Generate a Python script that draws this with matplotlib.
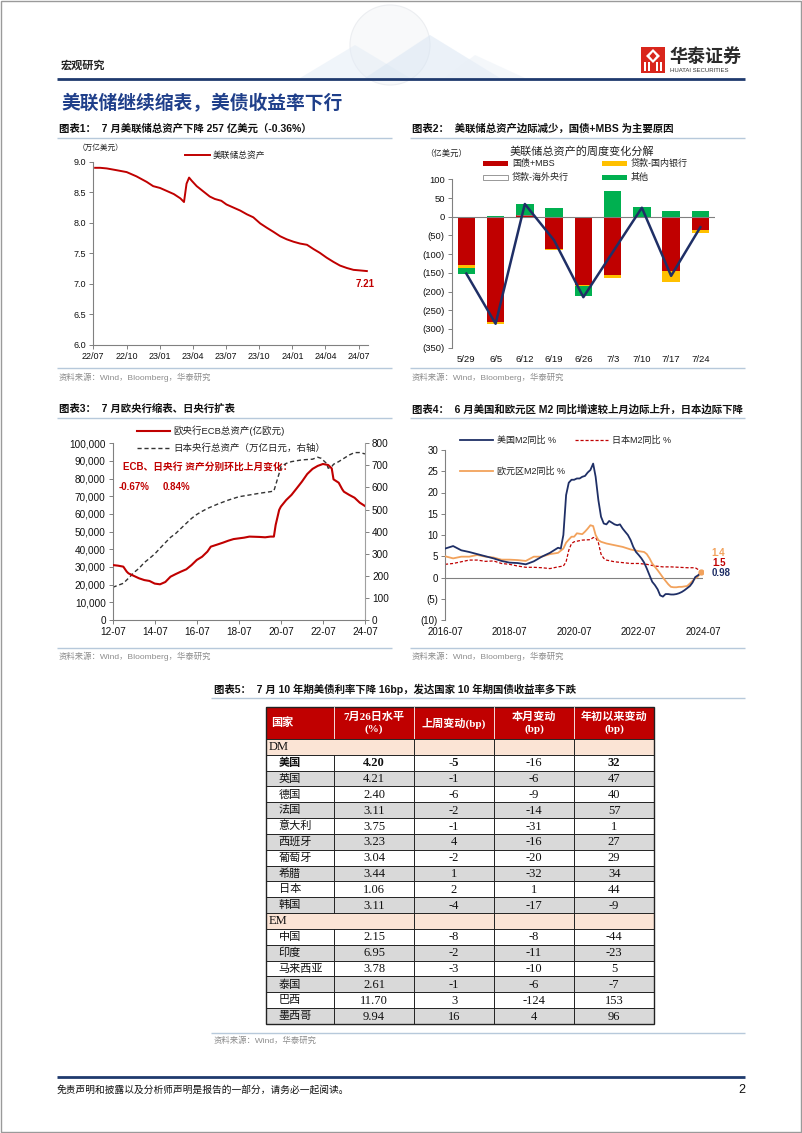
import matplotlib
matplotlib.use("Agg")
import matplotlib.pyplot as plt
import matplotlib.dates as mdates
from matplotlib.patches import Rectangle, Circle, Polygon
from matplotlib.ticker import FuncFormatter, MultipleLocator
import numpy as np
import pandas as pd

plt.rcParams["font.family"] = ["Liberation Sans", "Noto Sans CJK SC"]
plt.rcParams["axes.unicode_minus"] = False

# ---------------- data ----------------
# chart 1: Fed total assets (trillion USD)
fed_dates = ["2022-07-06", "2022-07-20", "2022-08-07", "2022-09-04", "2022-10-01", "2022-10-28",
             "2022-11-25", "2022-12-13", "2023-01-01", "2023-01-20", "2023-02-08", "2023-02-26",
             "2023-03-08", "2023-03-15", "2023-03-22", "2023-03-29", "2023-04-12", "2023-05-01",
             "2023-05-18", "2023-06-01", "2023-06-19", "2023-07-03", "2023-07-22", "2023-08-10",
             "2023-08-28", "2023-09-15", "2023-10-04", "2023-10-22", "2023-11-10", "2023-11-28",
             "2023-12-16", "2024-01-04", "2024-01-22", "2024-02-10", "2024-02-28", "2024-03-16",
             "2024-04-04", "2024-04-23", "2024-05-11", "2024-05-30", "2024-06-17", "2024-07-06",
             "2024-07-24"]
fed_vals = [8.90, 8.90, 8.89, 8.86, 8.83, 8.76, 8.67, 8.60, 8.57, 8.52, 8.47, 8.40,
            8.34, 8.64, 8.74, 8.69, 8.60, 8.51, 8.43, 8.39, 8.36, 8.30, 8.25, 8.20,
            8.14, 8.09, 7.99, 7.92, 7.85, 7.78, 7.73, 7.69, 7.66, 7.64, 7.57, 7.51,
            7.43, 7.36, 7.30, 7.26, 7.23, 7.22, 7.21]
fed_ticks = ["2022-07-01", "2022-10-01", "2023-01-01", "2023-04-01", "2023-07-01",
             "2023-10-01", "2024-01-01", "2024-04-01", "2024-07-01"]
fed_ticklabels = ["22/07", "22/10", "23/01", "23/04", "23/07", "23/10", "24/01", "24/04", "24/07"]

# chart 2: weekly change decomposition (100 million USD)
weeks = ["5/29", "6/5", "6/12", "6/19", "6/26", "7/3", "7/10", "7/17", "7/24"]
tsy_mbs = [-130, -280, 4, -85, -182, -157, -2, -145, -36]
loans_domestic = [-7, -8, -1, -3, -4, -8, 0, -30, -8]
loans_foreign = [0, 0, 0, 0, 0, 0, 0, 0, 0]
other = [-15, 2, 29, 22, -27, 68, 25, 16, 14]
total_change = [-152, -286, 34, -63, -215, -95, 24, -158, -28]

# chart 3: ECB (100 million EUR) and BOJ (trillion JPY) total assets
ecb_dates = ["2012-07", "2012-10", "2013-01", "2013-03", "2013-04", "2013-07", "2013-10", "2014-01",
             "2014-04", "2014-07", "2014-10", "2015-01", "2015-04", "2015-07", "2015-10", "2016-01",
             "2016-04", "2016-07", "2016-10", "2017-01", "2017-03", "2017-07", "2017-10", "2018-01",
             "2018-04", "2018-07", "2018-10", "2019-01", "2019-07", "2019-10", "2020-01", "2020-03",
             "2020-04", "2020-06", "2020-07", "2020-10", "2021-01", "2021-04", "2021-07", "2021-10",
             "2022-01", "2022-04", "2022-07", "2022-10", "2022-12", "2023-01", "2023-04", "2023-06",
             "2023-07", "2023-10", "2024-01", "2024-04", "2024-07"]
ecb_vals = [31100, 30750, 30200, 27400, 26400, 25000, 23600, 22600,
            22100, 20600, 20200, 21500, 24500, 26000, 27400, 28700,
            31100, 34000, 35800, 38700, 41500, 42800, 43800, 44900,
            45800, 46200, 46600, 47200, 47000, 46800, 47200, 47200,
            53800, 62300, 64200, 67900, 70800, 74500, 78300, 82600,
            85500, 87200, 88300, 87700, 85800, 79600, 77700, 74000,
            72600, 70800, 69200, 66400, 64500]
boj_dates = ["2012-07", "2013-01", "2013-04", "2013-07", "2013-10", "2014-01", "2014-04", "2014-07",
             "2014-10", "2015-01", "2015-04", "2015-07", "2015-10", "2016-01", "2016-04", "2016-07",
             "2016-10", "2017-01", "2017-07", "2018-01", "2018-07", "2019-01", "2019-07", "2020-01",
             "2020-03", "2020-04", "2020-06", "2020-07", "2020-10", "2021-01", "2021-07", "2022-01",
             "2022-04", "2022-06", "2022-09", "2022-10", "2022-12", "2023-01", "2023-04", "2023-07",
             "2023-10", "2024-01", "2024-04", "2024-07"]
boj_vals = [148, 166, 189, 214, 234, 260, 279, 299,
            325, 350, 374, 392, 415, 438, 460, 478,
            492, 505, 525, 543, 558, 566, 574, 581,
            584, 611, 664, 694, 709, 717, 725, 728,
            737, 732, 709, 687, 694, 705, 717, 732,
            747, 758, 758, 752]
cb_ticks = ["2012-07-01", "2014-07-01", "2016-07-01", "2018-07-01", "2020-07-01", "2022-07-01", "2024-07-01"]
cb_ticklabels = ["12-07", "14-07", "16-07", "18-07", "20-07", "22-07", "24-07"]

# chart 4: M2 yoy %
us_m2_dates = ["2016-07", "2016-10", "2017-01", "2017-04", "2017-07", "2017-10", "2018-01", "2018-04",
               "2018-07", "2018-10", "2019-01", "2019-04", "2019-07", "2019-10", "2020-01", "2020-02",
               "2020-03", "2020-04", "2020-05", "2020-06", "2020-07", "2020-08", "2020-09", "2020-10",
               "2020-11", "2020-12", "2021-01", "2021-02", "2021-03", "2021-04", "2021-05", "2021-06",
               "2021-07", "2021-08", "2021-09", "2021-10", "2021-11", "2021-12", "2022-01", "2022-02",
               "2022-03", "2022-04", "2022-05", "2022-06", "2022-07", "2022-08", "2022-09", "2022-10",
               "2022-11", "2022-12", "2023-01", "2023-02", "2023-03", "2023-04", "2023-05", "2023-06",
               "2023-07", "2023-08", "2023-09", "2023-10", "2023-11", "2023-12", "2024-01", "2024-02",
               "2024-03", "2024-04", "2024-05", "2024-06"]
us_m2_vals = [6.8, 7.4, 6.4, 6.0, 5.5, 5.0, 4.5, 3.9,
              3.5, 3.4, 3.1, 3.8, 4.9, 5.8, 7.0, 6.8,
              10.0, 19.4, 22.3, 23.0, 23.0, 23.3, 23.3, 23.7,
              23.9, 24.7, 25.3, 26.8, 23.7, 18.2, 14.3, 12.7,
              12.5, 13.3, 12.9, 12.5, 12.3, 12.5, 11.5, 10.7,
              10.0, 8.8, 7.2, 6.0, 5.3, 4.5, 3.5, 2.1,
              0.5, -1.0, -1.8, -2.8, -4.2, -4.5, -3.9, -3.9,
              -4.0, -4.0, -3.9, -3.7, -3.4, -3.0, -2.5, -2.0,
              -1.2, 0.1, 0.5, 0.98]
jp_m2_dates = ["2016-07", "2016-10", "2017-01", "2017-04", "2017-07", "2017-10", "2018-01", "2018-04",
               "2018-07", "2018-10", "2019-01", "2019-04", "2019-07", "2019-10", "2020-01", "2020-03",
               "2020-04", "2020-05", "2020-06", "2020-07", "2020-10", "2021-01", "2021-02", "2021-03",
               "2021-04", "2021-05", "2021-06", "2021-07", "2021-10", "2022-01", "2022-04", "2022-07",
               "2022-10", "2023-01", "2023-04", "2023-07", "2023-10", "2024-01", "2024-04", "2024-06"]
jp_m2_vals = [3.1, 3.3, 3.7, 4.1, 4.1, 3.8, 3.9, 3.3,
              3.1, 2.7, 2.4, 2.4, 2.3, 2.1, 2.5, 2.7,
              3.7, 6.4, 8.0, 8.4, 8.8, 8.9, 9.4, 9.4,
              8.2, 5.5, 4.5, 4.1, 3.7, 3.5, 3.3, 3.3,
              3.1, 2.7, 2.5, 2.5, 2.4, 2.3, 2.3, 1.5]
eu_m2_dates = ["2016-07", "2016-10", "2017-01", "2017-04", "2017-07", "2017-10", "2018-01", "2018-04",
               "2018-07", "2018-10", "2019-01", "2019-04", "2019-07", "2019-10", "2020-01", "2020-03",
               "2020-04", "2020-05", "2020-06", "2020-07", "2020-08", "2020-10", "2020-11", "2020-12",
               "2021-01", "2021-02", "2021-03", "2021-04", "2021-05", "2021-06", "2021-07", "2021-10",
               "2022-01", "2022-04", "2022-07", "2022-09", "2022-10", "2022-11", "2022-12", "2023-01",
               "2023-02", "2023-03", "2023-04", "2023-05", "2023-06", "2023-07", "2023-08", "2023-09",
               "2023-10", "2023-11", "2023-12", "2024-01", "2024-02", "2024-03", "2024-04", "2024-05",
               "2024-06"]
eu_m2_vals = [5.0, 4.5, 4.9, 4.9, 5.3, 4.9, 4.7, 4.2,
              4.2, 4.1, 3.9, 4.9, 4.9, 5.5, 5.8, 6.8,
              8.2, 8.9, 9.6, 9.6, 10.4, 10.2, 10.8, 11.5,
              12.3, 12.1, 10.0, 8.8, 8.4, 8.2, 8.0, 7.6,
              7.2, 6.6, 6.2, 6.0, 5.5, 4.5, 3.3, 2.5,
              1.7, 0.9, 0.0, -0.8, -1.6, -2.2, -2.3, -2.3,
              -2.2, -2.2, -2.1, -2.0, -1.4, -0.8, -0.2, 0.2,
              1.4]
m2_ticks = ["2016-07-01", "2018-07-01", "2020-07-01", "2022-07-01", "2024-07-01"]
m2_ticklabels = ["2016-07", "2018-07", "2020-07", "2022-07", "2024-07"]

# table 5: 10y government bond yields
table_header = ["国家", "7月26日水平\n(%)", "上周变动(bp)", "本月变动\n(bp)", "年初以来变动\n(bp)"]
dm_countries = ["美国", "英国", "德国", "法国", "意大利", "西班牙", "葡萄牙", "希腊", "日本", "韩国"]
dm_level = [4.20, 4.21, 2.40, 3.11, 3.75, 3.23, 3.04, 3.44, 1.06, 3.11]
dm_week = [-5, -1, -6, -2, -1, 4, -2, 1, 2, -4]
dm_month = [-16, -6, -9, -14, -31, -16, -20, -32, 1, -17]
dm_ytd = [32, 47, 40, 57, 1, 27, 29, 34, 44, -9]
em_countries = ["中国", "印度", "马来西亚", "泰国", "巴西", "墨西哥"]
em_level = [2.15, 6.95, 3.78, 2.61, 11.70, 9.94]
em_week = [-8, -2, -3, -1, 3, 16]
em_month = [-8, -11, -10, -6, -124, 4]
em_ytd = [-44, -23, 5, -7, 153, 96]

# ---------------- page ----------------
W, H = 802, 1133
RED = "#C00000"
GRAY = "#808080"
NAVY = "#1F2F66"
LINEBLUE = "#B7C9DB"
SRC = "#8C8C8C"

fig = plt.figure(figsize=(W / 100, H / 100), dpi=100)
bg = fig.add_axes([0, 0, 1, 1])
bg.set_xlim(0, W)
bg.set_ylim(H, 0)
bg.axis("off")


def ax_px(x0, y0, x1, y1):
    return fig.add_axes([x0 / W, 1 - y1 / H, (x1 - x0) / W, (y1 - y0) / H])


def hline(x0, x1, y, color, lw):
    bg.plot([x0, x1], [y, y], color=color, lw=lw, solid_capstyle="butt")


# page frame
bg.add_patch(Rectangle((0.5, 0.5), W - 1.5, H - 1.5, fill=False, ec="#9a9a9a", lw=1))

# faint globe decoration
bg.add_patch(Circle((390, 45), 40, fc="#F8F9FA", ec="#ECEEF1", lw=0.8, zorder=0))
for pts, c in [([(300, 78), (355, 45), (410, 78)], "#E3ECF6"),
               ([(365, 78), (430, 35), (500, 78)], "#D8E5F3"),
               ([(445, 78), (475, 55), (525, 78)], "#EAF0F7")]:
    bg.add_patch(Polygon(pts, closed=True, fc=c, ec="none", alpha=0.5, zorder=0))

bg.text(61, 65, "宏观研究", fontsize=8, fontweight="bold", va="center", color="#222222")
# logo
bg.add_patch(Rectangle((641, 47), 24, 26, fc="#D9261C", ec="none"))
bg.add_patch(Polygon([(653, 49), (660, 56), (653, 63), (646, 56)], fc="white", ec="none"))
bg.add_patch(Polygon([(653, 52), (656.5, 56), (653, 60), (649.5, 56)], fc="#D9261C", ec="none"))
for bx in [644, 648, 656, 660]:
    bg.add_patch(Rectangle((bx, 62), 1.8, 9, fc="white", ec="none"))
bg.text(670, 57, "华泰证券", fontsize=13, fontweight="bold", va="center", color="#2b2b2b")
bg.text(670, 70.5, "HUATAI SECURITIES", fontsize=4.3, va="center", color="#333333")
hline(57, 745, 79, "#1F3A6E", 2)

bg.text(61, 104, "美联储继续缩表，美债收益率下行", fontsize=13.5, fontweight="bold",
        va="center", color="#1F3F8A")

# chart titles, rules and sources
title_kw = dict(fontsize=7.5, fontweight="bold", va="center", color="#111111")
src_kw = dict(fontsize=6, va="center", color=SRC)
bg.text(59, 129, "图表1：  7 月美联储总资产下降 257 亿美元（-0.36%）", **title_kw)
bg.text(412, 129, "图表2：  美联储总资产边际减少，国债+MBS 为主要原因", **title_kw)
bg.text(59, 409, "图表3：  7 月欧央行缩表、日央行扩表", **title_kw)
bg.text(412, 409, "图表4：  6 月美国和欧元区 M2 同比增速较上月边际上升，日本边际下降", **title_kw)
bg.text(214, 689, "图表5：  7 月 10 年期美债利率下降 16bp，发达国家 10 年期国债收益率多下跌", **title_kw)
for x0, x1, y in [(57, 392, 138), (410, 745, 138), (57, 392, 418), (410, 745, 418), (211, 745, 698)]:
    hline(x0, x1, y, LINEBLUE, 1)
for x0, x1, y in [(57, 392, 368), (410, 745, 368), (57, 392, 648), (410, 745, 648), (211, 745, 1033)]:
    hline(x0, x1, y, LINEBLUE, 1)
bg.text(59, 377, "资料来源：Wind，Bloomberg，华泰研究", **src_kw)
bg.text(412, 377, "资料来源：Wind，Bloomberg，华泰研究", **src_kw)
bg.text(59, 656, "资料来源：Wind，Bloomberg，华泰研究", **src_kw)
bg.text(412, 656, "资料来源：Wind，Bloomberg，华泰研究", **src_kw)
bg.text(214, 1041, "资料来源：Wind，华泰研究", **src_kw)

# footer
hline(57, 745, 1077, "#1F3A6E", 2)
bg.text(57, 1090, "免责声明和披露以及分析师声明是报告的一部分，请务必一起阅读。", fontsize=7,
        va="center", color="#111111", style="italic")
bg.text(745, 1090, "2", fontsize=9, va="center", ha="right", color="#111111")


def style_axis(ax, labelsize=6.5):
    for s in ["top", "right"]:
        ax.spines[s].set_visible(False)
    for s in ["left", "bottom"]:
        ax.spines[s].set_color(GRAY)
        ax.spines[s].set_linewidth(0.8)
    ax.tick_params(labelsize=labelsize, colors="#111111", length=3, width=0.7, pad=2)
    ax.tick_params(axis="both", color=GRAY)
    ax.set_facecolor("none")


def paren_fmt(v, _):
    v = int(round(v))
    return f"({abs(v)})" if v < 0 else f"{v}"


# ---------------- chart 1 ----------------
ax1 = ax_px(93.3, 161.7, 368.3, 345)
fd = pd.to_datetime(fed_dates)
ax1.plot(fd, fed_vals, color=RED, lw=1.4)
ax1.set_ylim(6.0, 9.0)
ax1.set_xlim(pd.Timestamp("2022-07-01"), pd.Timestamp("2024-07-28"))
ax1.yaxis.set_major_locator(MultipleLocator(0.5))
ax1.yaxis.set_major_formatter(FuncFormatter(lambda v, _: f"{v:.1f}"))
ax1.set_xticks(pd.to_datetime(fed_ticks))
ax1.set_xticklabels(fed_ticklabels)
style_axis(ax1)
ax1.annotate(f"{fed_vals[-1]:.2f}", xy=(fd[-1], fed_vals[-1]), xytext=(-2, -13),
             textcoords="offset pixels", ha="center", va="center", fontsize=7,
             fontweight="bold", color=RED)
bg.text(78, 148, "（万亿美元）", fontsize=5.5, va="center", color="#222222")
bg.plot([185, 210], [155, 155], color=RED, lw=1.4)
bg.text(213, 155, "美联储总资产", fontsize=6.3, va="center", color="#222222")

# ---------------- chart 2 ----------------
ax2 = ax_px(451.7, 179.3, 715, 347.7)
xpos = np.arange(len(weeks))
pos_base = np.zeros(len(weeks))
neg_base = np.zeros(len(weeks))
series = [(tsy_mbs, RED, "none"), (loans_domestic, "#FFC000", "none"),
          (loans_foreign, "white", "#888888"), (other, "#00B050", "none")]
for vals, col, ec in series:
    vals = np.array(vals, dtype=float)
    bottoms = np.where(vals >= 0, pos_base, neg_base)
    ax2.bar(xpos, vals, 0.6, bottom=bottoms, color=col, edgecolor=ec, lw=0 if ec == "none" else 0.6,
            zorder=2)
    pos_base = pos_base + np.where(vals >= 0, vals, 0)
    neg_base = neg_base + np.where(vals < 0, vals, 0)
ax2.plot(xpos, total_change, color=NAVY, lw=1.8, zorder=4)
ax2.axhline(0, color=GRAY, lw=0.8, zorder=3)
ax2.set_ylim(-350, 100)
ax2.set_xlim(-0.5, 8.5)
ax2.yaxis.set_major_locator(MultipleLocator(50))
ax2.yaxis.set_major_formatter(FuncFormatter(paren_fmt))
ax2.set_xticks(xpos)
ax2.set_xticklabels(weeks)
style_axis(ax2, 6.8)
ax2.spines["bottom"].set_visible(False)
ax2.tick_params(axis="x", length=0, pad=5)
bg.text(582, 151, "美联储总资产的周度变化分解", fontsize=8, ha="center", va="center", color="#222222")
bg.text(425, 154, "（亿美元）", fontsize=6, va="center", color="#222222")
leg2 = [(483, 163, RED, "none", "国债+MBS"), (602, 163, "#FFC000", "none", "贷款-国内银行"),
        (483, 177, "white", "#888888", "贷款-海外央行"), (602, 177, "#00B050", "none", "其他")]
for lx, ly, fc, ec, txt in leg2:
    bg.add_patch(Rectangle((lx, ly - 2.5), 25, 5, fc=fc, ec=ec, lw=0.6))
    bg.text(lx + 29, ly, txt, fontsize=6.5, va="center", color="#222222")

# ---------------- chart 3 ----------------
ax3 = ax_px(112.7, 443.3, 365, 620)
ax3b = ax3.twinx()
ax3.plot(pd.to_datetime(ecb_dates), ecb_vals, color=RED, lw=1.5, zorder=3)
ax3b.plot(pd.to_datetime(boj_dates), boj_vals, color="#333333", lw=1.0, ls=(0, (3, 2)))
ax3.set_ylim(0, 100000)
ax3b.set_ylim(0, 800)
ax3.set_xlim(pd.Timestamp("2012-07-01"), pd.Timestamp("2024-07-01"))
ax3.yaxis.set_major_locator(MultipleLocator(10000))
ax3.yaxis.set_major_formatter(FuncFormatter(lambda v, _: f"{v:,.0f}"))
ax3b.yaxis.set_major_locator(MultipleLocator(100))
ax3.set_xticks(pd.to_datetime(cb_ticks))
ax3.set_xticklabels(cb_ticklabels)
style_axis(ax3, 7.2)
ax3b.spines["top"].set_visible(False)
ax3b.spines["left"].set_visible(False)
ax3b.spines["bottom"].set_visible(False)
ax3b.spines["right"].set_color("#A0A0A0")
ax3b.tick_params(labelsize=7.2, colors="#111111", length=3, width=0.7, pad=2)
ax3b.tick_params(axis="y", color=GRAY)
ax3.set_zorder(ax3b.get_zorder() + 1)
bg.plot([137, 170], [431, 431], color=RED, lw=1.5)
bg.text(173, 431, "欧央行ECB总资产(亿欧元)", fontsize=6.8, va="center", color="#222222")
bg.plot([137, 170], [448, 448], color="#333333", lw=1.0, ls=(0, (3, 2)))
bg.text(173, 448, "日本央行总资产（万亿日元，右轴）", fontsize=6.8, va="center", color="#222222")
bg.text(123, 467, "ECB、日央行 资产分别环比上月变化：", fontsize=7, fontweight="bold", va="center", color=RED)
bg.text(119, 487, "-0.67%", fontsize=7, fontweight="bold", va="center", color=RED)
bg.text(163, 487, "0.84%", fontsize=7, fontweight="bold", va="center", color=RED)

# ---------------- chart 4 ----------------
ax4 = ax_px(445, 450, 703.3, 620)
ORANGE = "#F2A25C"
us_d = pd.to_datetime(us_m2_dates)
jp_d = pd.to_datetime(jp_m2_dates)
eu_d = pd.to_datetime(eu_m2_dates)
ax4.axhline(0, color=GRAY, lw=0.8, zorder=1)
ax4.plot(jp_d, jp_m2_vals, color=RED, lw=0.9, ls=(0, (2.5, 1.5)), zorder=2)
ax4.plot(eu_d, eu_m2_vals, color=ORANGE, lw=1.3, zorder=3)
ax4.plot(us_d, us_m2_vals, color=NAVY, lw=1.3, zorder=4)
ax4.plot(eu_d[-1:], eu_m2_vals[-1:], "o", ms=3.5, color=ORANGE, zorder=5)
ax4.set_ylim(-10, 30)
ax4.set_xlim(pd.Timestamp("2016-07-01"), pd.Timestamp("2024-07-01"))
ax4.yaxis.set_major_locator(MultipleLocator(5))
ax4.yaxis.set_major_formatter(FuncFormatter(paren_fmt))
ax4.set_xticks(pd.to_datetime(m2_ticks))
ax4.set_xticklabels(m2_ticklabels)
style_axis(ax4, 7)
ax4.spines["bottom"].set_visible(False)
ax4.tick_params(axis="x", length=0, pad=5)
ax4.annotate(f"{eu_m2_vals[-1]:.1f}", xy=(eu_d[-1], eu_m2_vals[-1]), xytext=(11, 19),
             textcoords="offset pixels", ha="left", va="center", fontsize=7, fontweight="bold", color=ORANGE)
ax4.annotate(f"{jp_m2_vals[-1]:.1f}", xy=(jp_d[-1], jp_m2_vals[-1]), xytext=(12, 8),
             textcoords="offset pixels", ha="left", va="center", fontsize=7, fontweight="bold", color=RED)
ax4.annotate(f"{us_m2_vals[-1]:.2f}", xy=(us_d[-1], us_m2_vals[-1]), xytext=(11, 0),
             textcoords="offset pixels", ha="left", va="center", fontsize=7, fontweight="bold", color=NAVY)
bg.plot([460, 493], [440, 440], color=NAVY, lw=1.3)
bg.text(497, 440, "美国M2同比 %", fontsize=6.5, va="center", color="#222222")
bg.plot([575, 608], [440, 440], color=RED, lw=0.9, ls=(0, (2.5, 1.5)))
bg.text(612, 440, "日本M2同比 %", fontsize=6.5, va="center", color="#222222")
bg.plot([460, 493], [471, 471], color=ORANGE, lw=1.3)
bg.text(497, 471, "欧元区M2同比 %", fontsize=6.5, va="center", color="#222222")

# ---------------- table 5 ----------------
col_edges = [265.7, 334, 414, 494, 574, 654.3]
top, head_h, row_h = 706.7, 32.3, 15.83
serif = ["Liberation Serif", "Noto Sans CJK SC"]
bg.add_patch(Rectangle((col_edges[0], top), col_edges[-1] - col_edges[0], head_h, fc=RED, ec="none"))
for i, txt in enumerate(table_header):
    x0, x1 = col_edges[i], col_edges[i + 1]
    if i == 0:
        bg.text(x0 + 5, top + head_h / 2, txt, fontsize=8, fontweight="bold", color="white",
                va="center", family=serif)
    else:
        bg.text((x0 + x1) / 2, top + head_h / 2, txt, fontsize=8, fontweight="bold", color="white",
                va="center", ha="center", linespacing=1.35, family=serif)
    if i > 0:
        bg.plot([x0, x0], [top, top + head_h], color="white", lw=0.6)

rows = [("group", "DM")]
rows += [("row", c, l, w, m, y) for c, l, w, m, y in zip(dm_countries, dm_level, dm_week, dm_month, dm_ytd)]
rows += [("group", "EM")]
rows += [("row", c, l, w, m, y) for c, l, w, m, y in zip(em_countries, em_level, em_week, em_month, em_ytd)]

y = top + head_h
shade = 0
for r in rows:
    if r[0] == "group":
        bg.add_patch(Rectangle((col_edges[0], y), col_edges[-1] - col_edges[0], row_h, fc="#FBE4D5",
                               ec="none"))
        bg.text(col_edges[0] + 3, y + row_h / 2, r[1], fontsize=9, va="center", family=serif,
                color="#111111")
        for xe in col_edges[2:-1]:
            bg.plot([xe, xe], [y, y + row_h], color="#222222", lw=0.7)
        shade = 0
    else:
        fc = "white" if shade % 2 == 0 else "#D9D9D9"
        shade += 1
        bg.add_patch(Rectangle((col_edges[0], y), col_edges[-1] - col_edges[0], row_h, fc=fc, ec="none"))
        bold = "bold" if r[1] == "美国" else "normal"
        bg.text(col_edges[0] + 13, y + row_h / 2, r[1], fontsize=8, va="center", fontweight=bold,
                color="#111111")
        vals = [f"{r[2]:.2f}", str(r[3]), str(r[4]), str(r[5])]
        for j, v in enumerate(vals):
            xc = (col_edges[j + 1] + col_edges[j + 2]) / 2
            bw = "bold" if (r[1] == "美国" and j != 2) else "normal"
            bg.text(xc, y + row_h / 2 + 0.5, v, fontsize=9, va="center", ha="center", family=serif,
                    fontweight=bw, color="#111111")
        for xe in col_edges[1:-1]:
            bg.plot([xe, xe], [y, y + row_h], color="#222222", lw=0.7)
    hline(col_edges[0], col_edges[-1], y, "#222222", 0.7)
    y += row_h
bg.add_patch(Rectangle((col_edges[0], top), col_edges[-1] - col_edges[0], y - top, fill=False,
                       ec="#222222", lw=1.0))

fig.savefig("out.png", dpi=100)
